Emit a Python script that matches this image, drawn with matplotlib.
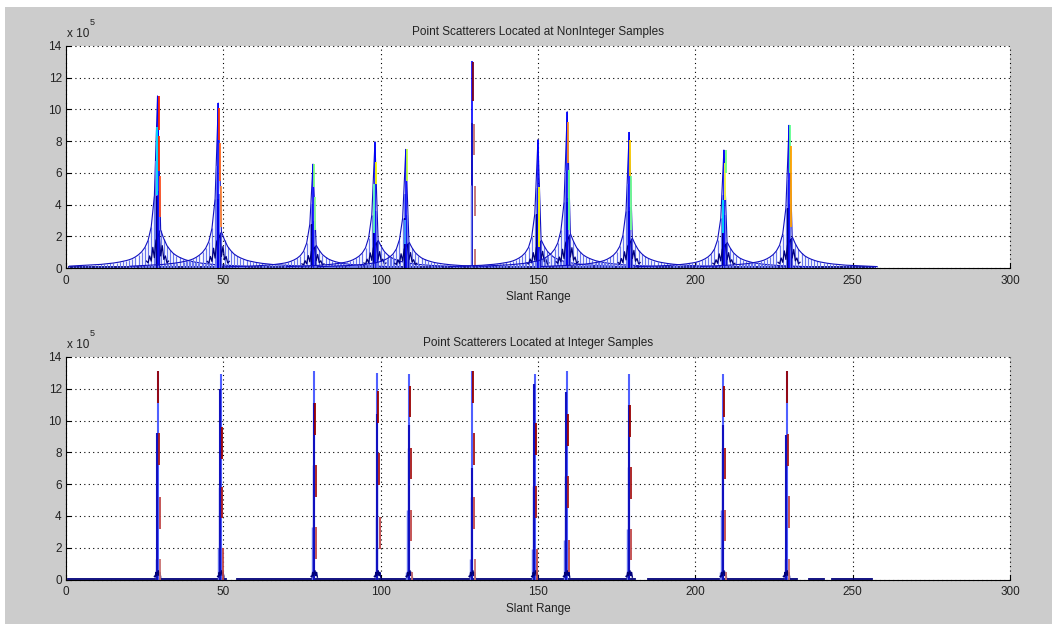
import matplotlib
matplotlib.use("Agg")
import matplotlib.pyplot as plt
from matplotlib.patches import Rectangle

plt.rcParams['font.family'] = ['Liberation Sans', 'DejaVu Sans']

# ---- data (amplitudes in units of 1e5) ----
x_ticks = [0, 50, 100, 150, 200, 250, 300]
y_ticks = [0, 2, 4, 6, 8, 10, 12, 14]

# upper panel: scatterers at non-integer samples
nonint_centers = [29.1, 48.4, 78.5, 98.2, 108.0, 129.1, 150.0, 159.3, 179.0, 209.1, 229.8]
nonint_heights = [10.85, 10.4, 6.55, 7.96, 7.48, 13.05, 8.1, 9.86, 8.55, 7.44, 9.0]
nonint_has_tail = [1, 1, 1, 1, 1, 0, 1, 1, 1, 1, 1]

# sidelobe level relative to peak, for sample offsets 1..28
tail_left = [0.42, 0.24, 0.16, 0.12, 0.095, 0.078, 0.065, 0.055, 0.048, 0.043,
             0.039, 0.035, 0.032, 0.029, 0.027, 0.025, 0.023, 0.021, 0.020, 0.019,
             0.018, 0.017, 0.016, 0.015, 0.014, 0.013, 0.012, 0.011]
tail_right = [0.22, 0.17, 0.13, 0.105, 0.085, 0.072, 0.062, 0.054, 0.047, 0.042,
              0.038, 0.034, 0.031, 0.028, 0.026, 0.024, 0.022, 0.020, 0.019, 0.018,
              0.017, 0.016, 0.015, 0.014, 0.013, 0.012, 0.011, 0.010]
# dark inner sidelobes close to each peak (relative), half-sample steps
inner_left = [0.16, 0.06, 0.12, 0.04, 0.07, 0.03, 0.04]
inner_right = [0.20, 0.07, 0.13, 0.05, 0.07, 0.03, 0.04]

# coloured line pieces near each peak (low, high)
nonint_segments = [
    [(8.7, 10.85), (6.1, 8.3), (3.2, 5.8), (4.6, 8.9)],
    [(8.1, 10.1), (5.5, 7.9), (2.6, 5.2)],
    [(5.1, 6.55), (2.4, 4.5)],
    [(5.3, 6.7), (2.2, 5.3)],
    [(5.5, 7.5), (1.5, 3.0)],
    [(10.5, 13.0), (7.1, 9.1), (3.3, 5.2), (0.1, 1.2)],
    [(1.3, 5.1)],
    [(6.6, 9.2), (2.4, 6.2)],
    [(5.8, 8.1), (2.4, 5.8)],
    [(4.3, 6.6), (2.2, 4.3), (6.0, 7.44)],
    [(6.0, 9.0), (2.6, 7.7)],
]
nonint_seg_colors = [
    ['#ff2200', '#ff3300', '#ff5522', '#00e5ff'],
    ['#ff3300', '#ff6a20', '#ff8a3a'],
    ['#80ff80', '#90ff90'],
    ['#ffff00', '#60ffc0'],
    ['#c0ff40', '#40a0ff'],
    ['#7a0020', '#c07070', '#c07070', '#c07070'],
    ['#ffff00'],
    ['#ff8c20', '#60ff90'],
    ['#ffd000', '#70ff90'],
    ['#ffff40', '#00e0ff', '#70ff80'],
    ['#60ff90', '#ffa000'],
]

# lower panel: scatterers at integer samples
int_centers = [29.1, 49.2, 78.9, 99.0, 109.1, 129.1, 149.0, 159.1, 179.0, 208.9, 229.0]
int_heights = [13.1, 12.9, 13.1, 13.0, 12.9, 13.1, 12.9, 13.1, 12.95, 12.95, 13.1]
int_dark = [9.2, 12.0, 11.1, 10.4, 9.7, 7.0, 12.3, 11.8, 11.0, 9.7, 9.1]
int_steps = [
    [13.1, 9.2, 5.2, 1.3],
    [9.6, 5.85, 2.0],
    [11.1, 7.2, 3.3],
    [11.85, 7.95, 3.95],
    [12.2, 8.3, 4.4, 0.5],
    [13.1, 9.2, 5.2, 1.3],
    [9.85, 5.9, 1.95],
    [10.4, 6.5, 2.5],
    [10.95, 7.05, 3.2],
    [12.2, 8.3, 4.4, 0.5],
    [13.1, 9.15, 5.25, 1.3],
]
step_span = 2.0
int_base = [0.55, 0.25, 0.45, 0.15, 0.2]

# near-zero floor lines (start, end)
nonint_floor = [(1.0, 257.0)]
int_floor = [(0.6, 51.0), (54.2, 181.0), (185.0, 232.2), (236.2, 241.0), (243.3, 256.2)]

LIGHT = '#6a78ee'
BLUE = '#0000ff'
DARK = '#1010c0'
NAVY = '#00007a'
COOL = {'#00e5ff', '#60ffc0', '#40a0ff', '#00e0ff'}


def style_axes(ax, title):
    ax.set_xlim(0, 300)
    ax.set_ylim(0, 14)
    ax.set_xticks(x_ticks)
    ax.set_yticks(y_ticks)
    ax.set_axisbelow(True)
    ax.grid(True, linestyle=(0, (1, 3)), color='black', linewidth=0.8)
    for g in ax.get_xgridlines() + ax.get_ygridlines():
        g.set_clip_on(False)
    ax.spines['top'].set_visible(False)
    ax.spines['right'].set_visible(False)
    ax.spines['left'].set_linewidth(0.8)
    ax.spines['bottom'].set_linewidth(0.8)
    ax.tick_params(direction='in', length=3.5, width=0.8, labelsize=8.5,
                   labelcolor='#222222', top=False, right=False)
    ax.tick_params(axis='x', pad=5)
    ax.tick_params(axis='y', pad=3)
    ax.set_title(title, fontsize=8.5, color='#222222', pad=8)
    ax.set_xlabel('Slant Range', fontsize=8.5, color='#222222', labelpad=3)
    # exponent label, MATLAB style
    ax.text(0.001, 1.025, 'x 10', transform=ax.transAxes, fontsize=8.5,
            color='#222222', ha='left', va='bottom')
    ax.text(0.025, 1.085, '5', transform=ax.transAxes, fontsize=6.5,
            color='#222222', ha='left', va='bottom')


def draw_noninteger(ax):
    for a, b in nonint_floor:
        ax.plot([a, b], [0.06, 0.06], color=NAVY, lw=1.3)
    for i, c in enumerate(nonint_centers):
        h = nonint_heights[i]
        if nonint_has_tail[i]:
            lx = [c - k for k in range(len(tail_left), 0, -1)]
            ly = [h * v for v in tail_left[::-1]]
            rx = [c + k for k in range(1, len(tail_right) + 1)]
            ry = [h * v for v in tail_right]
            ax.vlines(lx + rx, 0, ly + ry, color=LIGHT, lw=0.9)
            ax.plot(lx + [c] + rx, ly + [h] + ry, color=DARK, lw=0.8)
            # wider light body of the main lobe
            ax.vlines([c - 0.35, c + 0.35], 0, [h * 0.62, h * 0.45], color=LIGHT, lw=1.4)
            ix = [c - 0.5 * k for k in range(len(inner_left), 0, -1)] + \
                 [c + 0.5 * k for k in range(1, len(inner_right) + 1)]
            iy = [h * v for v in inner_left[::-1]] + [h * v for v in inner_right]
            ax.plot(ix, iy, color=NAVY, lw=0.9)
            ax.vlines(c - 0.2, 0, h * tail_left[0], color=NAVY, lw=1.4)
            ax.vlines(c + 0.6, 0, h * tail_right[0], color=DARK, lw=1.0)
        ax.vlines(c, 0, h, color=BLUE, lw=1.2)
        if not nonint_has_tail[i]:
            ax.vlines(c - 0.15, 0, h * 0.7, color=DARK, lw=1.3)
            ax.vlines(c - 0.45, 0, h * 0.4, color=LIGHT, lw=1.0)
        right = 0
        left = 0
        for (lo, hi), col in zip(nonint_segments[i], nonint_seg_colors[i]):
            if col in COOL:
                left += 1
                ax.vlines(c - 0.25 * left, lo, hi, color=col, lw=1.3)
            else:
                right += 1
                ax.vlines(c + 0.1 + 0.22 * right, lo, hi, color=col, lw=1.3)


def draw_integer(ax):
    for a, b in int_floor:
        ax.plot([a, b], [0.06, 0.06], color=NAVY, lw=1.3)
    reds = ['#9a0000', '#a81818', '#c04848', '#c87070', '#c87070']
    for i, c in enumerate(int_centers):
        h = int_heights[i]
        steps = int_steps[i]
        lower = [s for s in steps if s < int_dark[i] - 0.3]
        for j, s in enumerate(lower):
            ax.vlines(c - 0.3 * (j + 1), 0, s, color=LIGHT, lw=1.0)
        ax.vlines(c, 0, h, color='#5060ff', lw=1.5)
        ax.vlines(c - 0.1, 0, int_dark[i], color=DARK, lw=1.5)
        bx = [c - 1.0, c - 0.75, c - 0.5, c - 0.25, c + 0.25, c + 0.5, c + 0.75, c + 1.0]
        by = int_base[::-1][:4] + int_base[:4]
        ax.plot(bx, by, color=NAVY, lw=1.0)
        for j, s in enumerate(steps):
            ax.vlines(c + 0.3 + 0.2 * j, max(s - step_span, 0.0), s,
                      color=reds[j], lw=1.3)


fig = plt.figure(figsize=(10.52, 6.24), dpi=100, facecolor='white')
fig.patches.append(Rectangle((5 / 1052, 0), 1, 617 / 624, transform=fig.transFigure,
                             facecolor='#cccccc', edgecolor='none', zorder=-10))

ax1 = fig.add_axes([0.0627, 0.5705, 0.8973, 0.3558])
ax2 = fig.add_axes([0.0627, 0.0713, 0.8973, 0.3566])

draw_noninteger(ax1)
style_axes(ax1, 'Point Scatterers Located at NonInteger Samples')
draw_integer(ax2)
style_axes(ax2, 'Point Scatterers Located at Integer Samples')

fig.savefig('out.png', dpi=100, facecolor=fig.get_facecolor())
